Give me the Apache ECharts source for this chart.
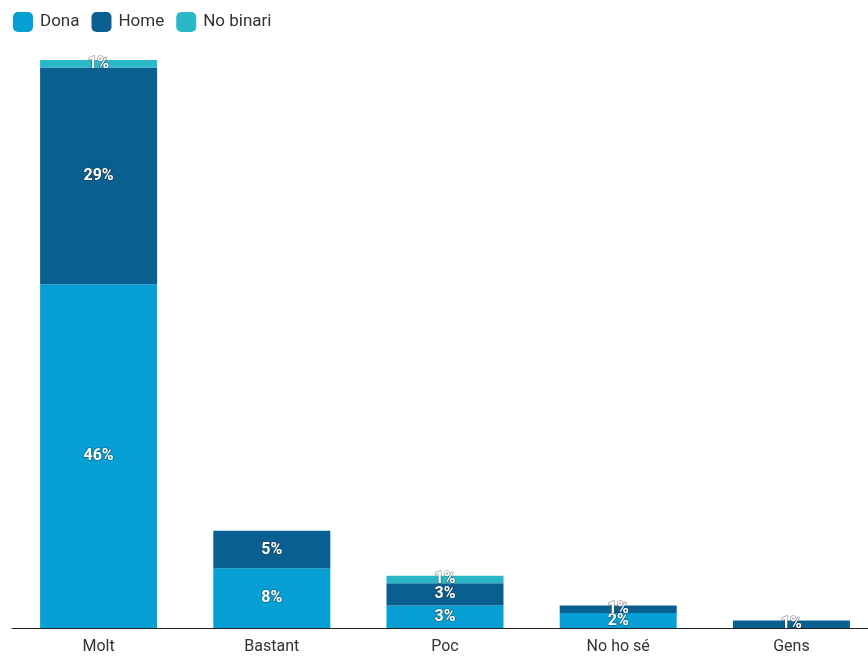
<!DOCTYPE html>
<html>
<head>
<meta charset="utf-8">
<script src="https://cdn.jsdelivr.net/npm/echarts@6/dist/echarts.min.js"></script>
<style>html,body{margin:0;padding:0;background:#fff;overflow:hidden}#c{width:878px;height:659px}</style>
</head>
<body>
<div id="c"></div>
<script>
const categories = ['Molt', 'Bastant', 'Poc', 'No ho sé', 'Gens'];
const dona = [46, 8, 3, 2, 0];
const home = [29, 5, 3, 1, 1];
const noBinari = [1, 0, 1, 0, 0];

const chart = echarts.init(document.getElementById('c'));
const lbl = {
  show: true,
  position: 'inside',
  color: '#fff',
  fontFamily: 'Roboto',
  fontWeight: 'bold',
  fontSize: 16,
  textBorderColor: 'rgba(40,40,40,0.45)',
  textBorderWidth: 1.5,
  formatter: p => p.value > 0 ? p.value + '%' : ''
};
function s(name, data, color) {
  return { name, type: 'bar', stack: 't', data, barWidth: 117, itemStyle: { color }, label: lbl, emphasis: { disabled: true } };
}
chart.setOption({
  animation: false,
  textStyle: { fontFamily: 'Roboto' },
  legend: {
    left: 8, top: 7, itemWidth: 20, itemHeight: 20, itemGap: 12,
    icon: 'roundRect',
    textStyle: { fontSize: 17, color: '#333', fontFamily: 'Roboto', padding: [0, 0, 0, 2] },
    data: ['Dona', 'Home', 'No binari']
  },
  grid: { left: 12, right: 0, top: 60, bottom: 31, containLabel: false },
  xAxis: {
    type: 'category', data: categories,
    axisLine: { lineStyle: { color: '#222', width: 1 } },
    axisTick: { show: false },
    axisLabel: { fontSize: 16, color: '#333', margin: 11, fontFamily: 'Roboto' }
  },
  yAxis: { type: 'value', min: 0, max: 76, show: false, splitLine: { show: false } },
  series: [
    s('Dona', dona, '#059fd3'),
    s('Home', home, '#0a5f91'),
    s('No binari', noBinari, '#2ab7c8')
  ]
});
</script>
</body>
</html>
